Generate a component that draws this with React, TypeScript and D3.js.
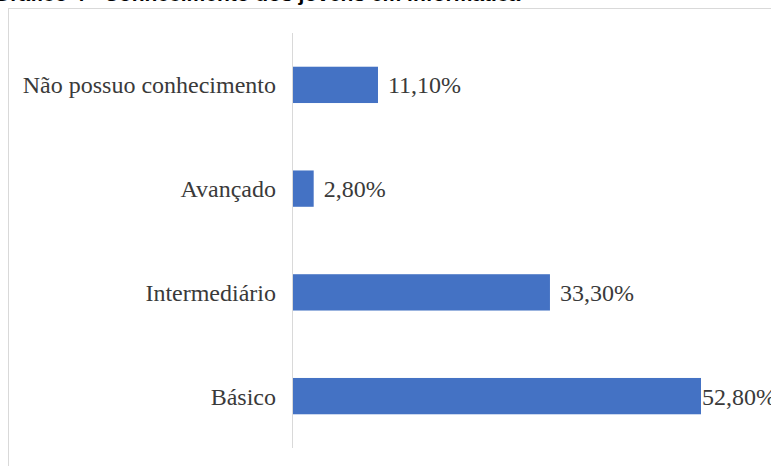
import React from "react";
import * as d3 from "d3";

const categories = ["Não possuo conhecimento", "Avançado", "Intermediário", "Básico"];
const values = [11.1, 2.8, 33.3, 52.8];
const valueLabels = ["11,10%", "2,80%", "33,30%", "52,80%"];
const titleText = "Gráfico 4 - Conhecimento dos jovens em informática";

const W = 771;
const H = 466;

export default function App() {
  const axisX = 292;
  const top = 33;
  const bottom = 448;
  const x = d3.scaleLinear().domain([0, 52.8]).range([axisX, 701]);
  const y = d3
    .scaleBand<string>()
    .domain(categories)
    .range([top, bottom])
    .paddingInner(0.65)
    .paddingOuter(0.325);
  const fontFamily = "'Liberation Serif', 'Times New Roman', serif";
  const labelW = 75;

  return (
    <svg
      width={W}
      height={H}
      style={{ position: "fixed", left: 0, top: 0, background: "#fff" }}
    >
      <rect x={0} y={0} width={W} height={H} fill="#fff" />
      <text
        x={-6}
        y={0.5}
        fontFamily="'Liberation Sans', Arial, sans-serif"
        fontWeight="bold"
        fontSize={21}
        fill="#000"
      >
        {titleText}
      </text>
      <rect x={8.5} y={8.5} width={W + 10} height={H + 10} fill="#fff" stroke="#d9d9d9" strokeWidth={1} />
      <line x1={axisX + 0.5} x2={axisX + 0.5} y1={top} y2={bottom} stroke="#d9d9d9" strokeWidth={1} />
      {categories.map((c, i) => {
        const by = y(c)!;
        const bh = y.bandwidth();
        const end = x(values[i]);
        const lx = end + 10 + labelW > W + 5 ? end + 1 : end + 10;
        return (
          <g key={c}>
            <rect x={axisX + 1} y={by} width={end - axisX - 1} height={bh} fill="#4472C4" />
            <text
              x={axisX - 16}
              y={by + bh / 2}
              dy="0.35em"
              textAnchor="end"
              fontFamily={fontFamily}
              fontSize={24}
              fill="#3a3a3a"
            >
              {c}
            </text>
            <text
              x={lx}
              y={by + bh / 2}
              dy="0.35em"
              fontFamily={fontFamily}
              fontSize={24}
              fill="#3a3a3a"
            >
              {valueLabels[i]}
            </text>
          </g>
        );
      })}
    </svg>
  );
}
